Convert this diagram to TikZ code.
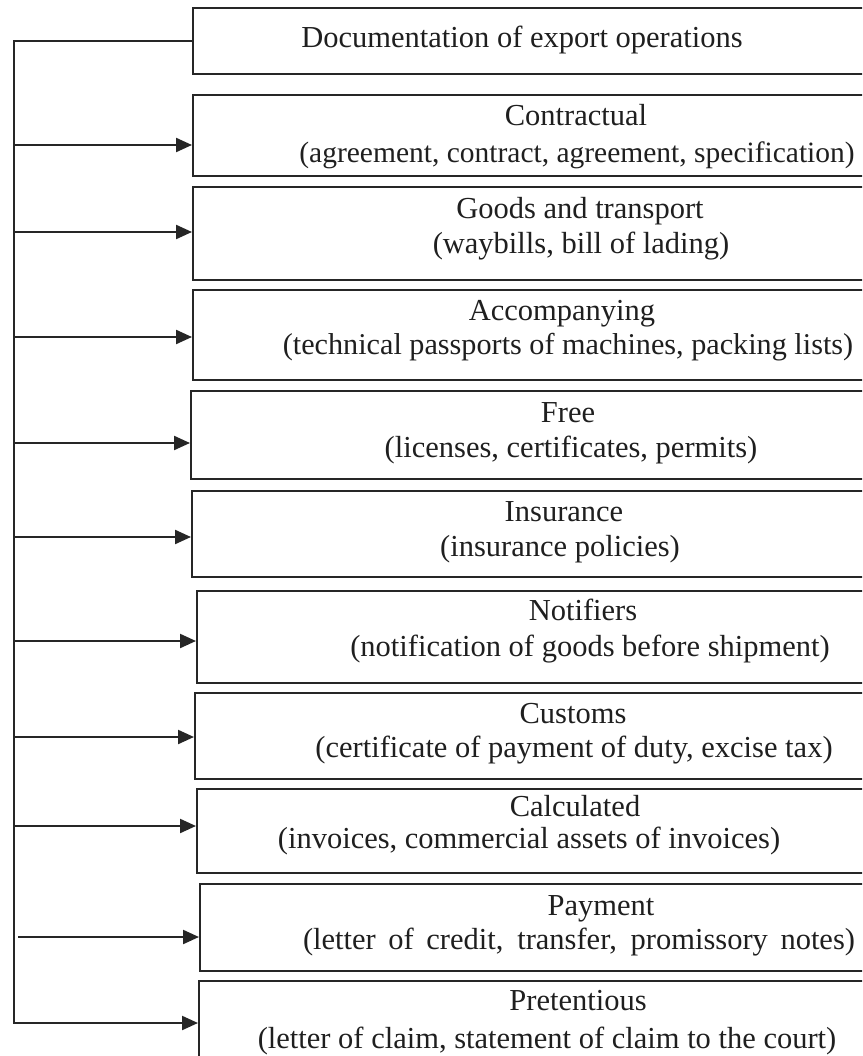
\documentclass[tikz,border=0pt]{standalone}
\usepackage{fontspec}
\setmainfont{Liberation Serif}
\usetikzlibrary{arrows.meta}
\begin{document}
\begin{tikzpicture}[x=1pt,y=-1pt,
  box/.style={draw=black!85, line width=2.4pt, minimum width=720pt, anchor=north west, inner sep=0pt},
  lab/.style={font=\fontsize{30.5}{33}\selectfont, text=black!88, inner sep=0pt, text height=21pt, text depth=6pt},
  conn/.style={draw=black!85, line width=2.2pt},
  arr/.style={conn, -{Triangle[length=16pt,width=14pt]}}]
\clip (0,0) rectangle (862,1056);
\fill[white] (0,0) rectangle (862,1056);
% boxes
\node[box, minimum height=66pt] (b1) at (192,7) {};
\node[box, minimum height=81pt] (b2) at (192,94) {};
\node[box, minimum height=93pt] (b3) at (192,186) {};
\node[box, minimum height=90pt] (b4) at (192,289) {};
\node[box, minimum height=88pt] (b5) at (190,390) {};
\node[box, minimum height=86pt] (b6) at (191,490) {};
\node[box, minimum height=92pt] (b7) at (196,590) {};
\node[box, minimum height=86pt] (b8) at (194,692) {};
\node[box, minimum height=84pt] (b9) at (196,788) {};
\node[box, minimum height=87pt] (b10) at (199,883) {};
\node[box, minimum height=95pt] (b11) at (198,980) {};
% labels
\node[lab] (t1) at (522,40) {Documentation of export operations};
\node[lab] (t2a) at (576,118) {Contractual};
\node[lab, font=\fontsize{29.5}{33}\selectfont] (t2b) at (577,155) {(agreement, contract, agreement, specification)};
\node[lab] (t3a) at (580,211) {Goods and transport};
\node[lab] (t3b) at (581,246) {(waybills, bill of lading)};
\node[lab] (t4a) at (562,313) {Accompanying};
\node[lab, font=\fontsize{30.2}{33}\selectfont] (t4b) at (568,347) {(technical passports of machines, packing lists)};
\node[lab] (t5a) at (568,415) {Free};
\node[lab] (t5b) at (571,450) {(licenses, certificates, permits)};
\node[lab] (t6a) at (564,514) {Insurance};
\node[lab] (t6b) at (560,549) {(insurance policies)};
\node[lab] (t7a) at (583,613) {Notifiers};
\node[lab] (t7b) at (590,649) {(notification of goods before shipment)};
\node[lab] (t8a) at (573,716) {Customs};
\node[lab] (t8b) at (574,750) {(certificate of payment of duty, excise tax)};
\node[lab] (t9a) at (575,809) {Calculated};
\node[lab] (t9b) at (529,841) {(invoices, commercial assets of invoices)};
\node[lab] (t10a) at (601,908) {Payment};
\node[lab] (t10b) at (579,942) {\makebox[552pt][s]{(letter of credit, transfer, promissory notes)}};
\node[lab] (t11a) at (578,1003) {Pretentious};
\node[lab] (t11b) at (547,1041) {(letter of claim, statement of claim to the court)};
% spine
\path (b1.west) -- ++(-178,0) coordinate (sTop);
\coordinate (sBot) at (14,1023);
\draw[arr] (b1.west) -- (sTop) -- (sBot) -- (sBot -| b11.west);
\coordinate (s2) at (14,145);
\coordinate (s3) at (14,232);
\coordinate (s4) at (14,337);
\coordinate (s5) at (14,443);
\coordinate (s6) at (14,537);
\coordinate (s7) at (14,641);
\coordinate (s8) at (14,737);
\coordinate (s9) at (14,826);
\coordinate (s10) at (18,937);
\draw[arr] (s2) -- (s2 -| b2.west);
\draw[arr] (s3) -- (s3 -| b3.west);
\draw[arr] (s4) -- (s4 -| b4.west);
\draw[arr] (s5) -- (s5 -| b5.west);
\draw[arr] (s6) -- (s6 -| b6.west);
\draw[arr] (s7) -- (s7 -| b7.west);
\draw[arr] (s8) -- (s8 -| b8.west);
\draw[arr] (s9) -- (s9 -| b9.west);
\draw[arr] (s10) -- (s10 -| b10.west);
\end{tikzpicture}
\end{document}
